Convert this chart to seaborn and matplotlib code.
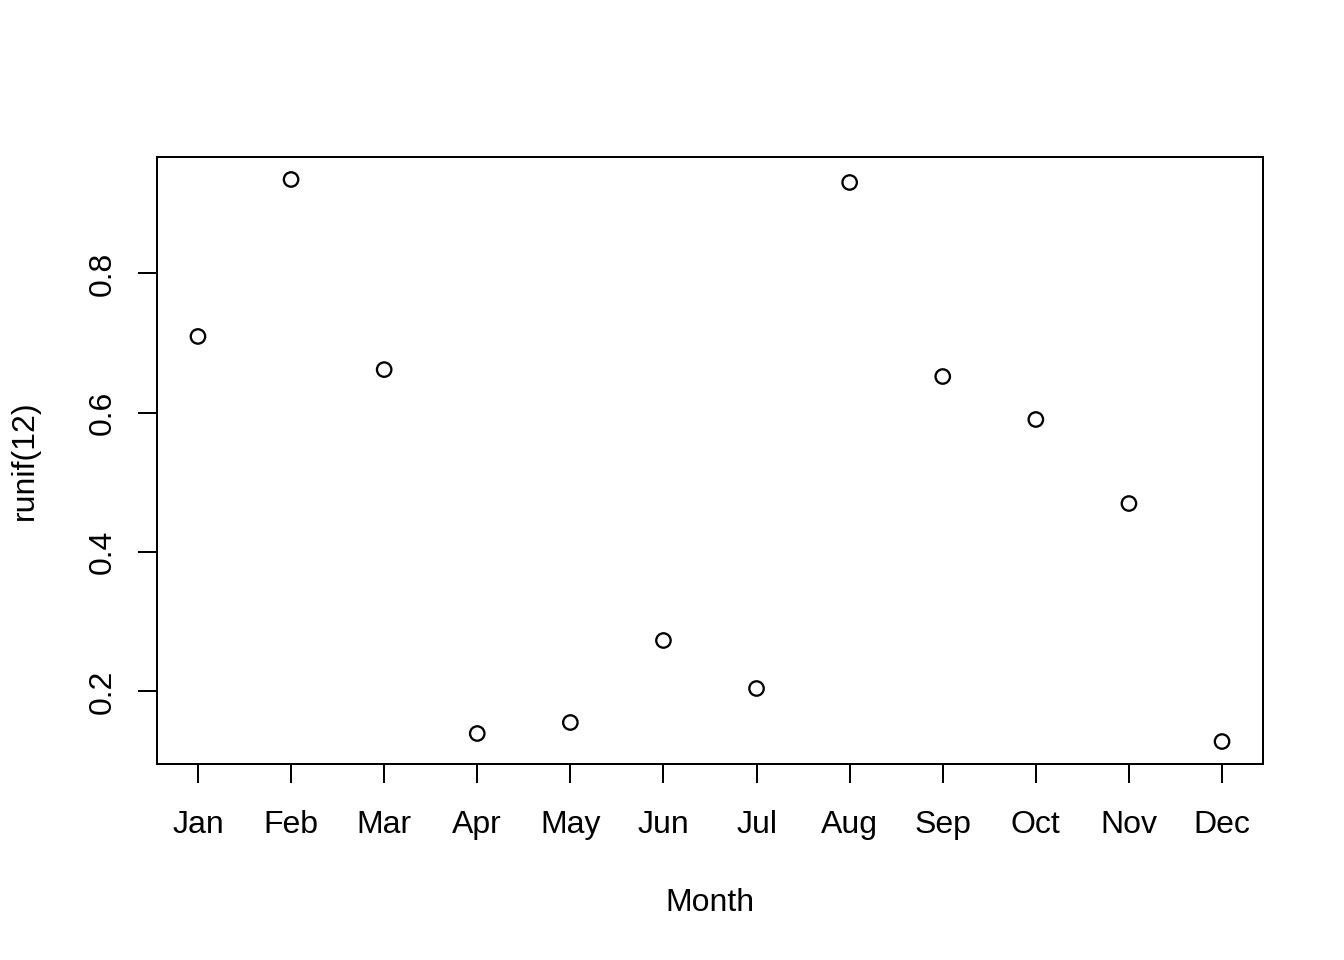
import matplotlib
matplotlib.use("Agg")
import matplotlib.pyplot as plt
import seaborn as sns
import pandas as pd

months = ["Jan", "Feb", "Mar", "Apr", "May", "Jun", "Jul", "Aug", "Sep", "Oct", "Nov", "Dec"]
values = [0.7096, 0.9349, 0.6620, 0.1397, 0.1555, 0.2732, 0.2043, 0.9306, 0.6521, 0.5904, 0.4698, 0.1282]
yticks = [0.2, 0.4, 0.6, 0.8]

sns.set_style("white")
plt.rcParams['font.family'] = ['Liberation Sans', 'DejaVu Sans']
plt.rcParams['text.color'] = 'black'
plt.rcParams['axes.labelcolor'] = 'black'
plt.rcParams['xtick.color'] = 'black'
plt.rcParams['ytick.color'] = 'black'

df = pd.DataFrame({"x": list(range(1, 13)), "y": values})

fig = plt.figure(figsize=(1344/144, 960/144), dpi=144)
ax = fig.add_axes([157/1344, 1-764/960, (1263-157)/1344, (764-157)/960])
sns.scatterplot(data=df, x="x", y="y", ax=ax, marker="o", s=52,
                facecolors="none", edgecolor="black", linewidth=1.15, legend=False)

ymin, ymax = min(values), max(values)
r = ymax - ymin
ax.set_xlim(1 - 0.44, 12 + 0.44)
ax.set_ylim(ymin - 0.04*r, ymax + 0.04*r)
ax.set_xticks(range(1, 13))
ax.set_xticklabels(months)
ax.set_yticks(yticks)
ax.set_yticklabels([str(v) for v in yticks], rotation=90, va="center")
for s in ax.spines.values():
    s.set_linewidth(1.0)
    s.set_color("black")
ax.tick_params(axis="both", direction="out", length=9.5, width=1.0, color="black",
               labelsize=16, labelcolor="black", bottom=True, left=True)
ax.tick_params(axis="x", pad=13.5)
ax.tick_params(axis="y", pad=10)
ax.set_xlabel("Month", fontsize=16, labelpad=24)
ax.set_ylabel("runif(12)", fontsize=16, labelpad=24)
fig.savefig("out.png", dpi=144)
